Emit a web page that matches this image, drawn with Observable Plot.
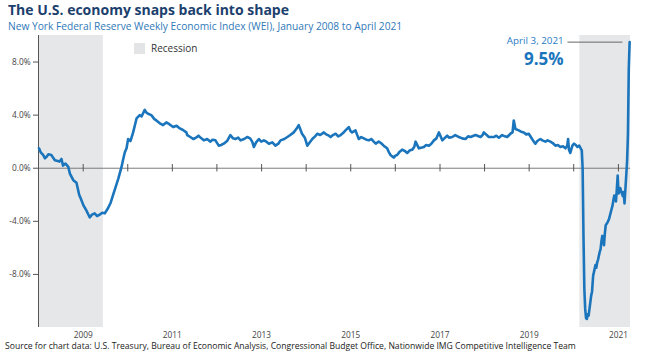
<!DOCTYPE html>
<html><head><meta charset="utf-8">
<script src="https://cdn.jsdelivr.net/npm/d3@7"></script>
<script src="https://cdn.jsdelivr.net/npm/@observablehq/plot@0.6"></script>
<style>
body{margin:0;background:#fff;}
#wrap{position:relative;width:645px;height:357px;overflow:hidden;font-family:"Open Sans",Lato,sans-serif;}
#title{position:absolute;left:8px;top:1.8px;line-height:1.1;font-weight:700;font-size:14px;color:#1c3f6e;white-space:nowrap;}
#sub{position:absolute;left:8px;top:20.6px;line-height:1.1;font-size:10.2px;color:#2f79b9;white-space:nowrap;}
#chart{position:absolute;left:0;top:30px;}
#legend{position:absolute;left:134px;top:43px;line-height:1.1;font-size:10px;color:#333;display:flex;align-items:center;}
#legend span.sw{display:inline-block;width:11px;height:11px;background:#e3e4e6;margin-right:6px;}
#source{position:absolute;left:5px;top:342px;line-height:1.1;font-size:8.6px;color:#222;white-space:nowrap;}
</style></head><body>
<div id="wrap">
<div id="title">The U.S. economy snaps back into shape</div>
<div id="sub">New York Federal Reserve Weekly Economic Index (WEI), January 2008 to April 2021</div>
<div id="chart"></div>
<div id="legend"><span class="sw"></span>Recession</div>
<div id="source">Source for chart data: U.S. Treasury, Bureau of Economic Analysis, Congressional Budget Office, Nationwide IMG Competitive Intelligence Team</div>
</div>
<script>
const dates = [
"2008-01-05","2008-01-19","2008-02-08","2008-02-22","2008-03-06","2008-03-22","2008-04-15","2008-04-29","2008-05-14","2008-06-07","2008-06-21","2008-07-07","2008-07-20","2008-08-09","2008-09-01","2008-09-14","2008-10-12",
"2008-11-07","2008-11-29","2008-12-13","2009-01-03","2009-01-28","2009-02-10","2009-02-24","2009-03-14","2009-04-05","2009-04-25","2009-05-16","2009-06-06","2009-06-27","2009-07-24","2009-08-14","2009-09-03",
"2009-09-24","2009-10-15","2009-11-11","2009-11-25","2009-12-08","2009-12-22","2010-01-04","2010-01-23","2010-02-14","2010-03-14","2010-04-09","2010-04-24","2010-05-20","2010-06-02","2010-06-16","2010-07-13",
"2010-08-07","2010-08-23","2010-09-18","2010-10-17","2010-11-13","2010-12-10","2011-01-08","2011-02-05","2011-03-03","2011-03-26","2011-04-26","2011-05-03","2011-05-28","2011-06-23","2011-07-14","2011-08-03","2011-08-27","2011-09-16",
"2011-10-13","2011-11-09","2011-11-26","2011-12-20","2012-01-16","2012-02-04","2012-02-26","2012-03-24","2012-04-20","2012-05-12","2012-06-01","2012-06-23","2012-07-13","2012-08-11","2012-09-05","2012-09-29","2012-10-16","2012-10-30",
"2012-11-17","2012-12-10","2012-12-29","2013-01-20","2013-02-09","2013-03-02","2013-03-30","2013-04-24","2013-05-18","2013-06-05","2013-07-06","2013-07-31","2013-08-24","2013-09-21","2013-10-12","2013-11-01","2013-11-28","2013-12-21","2014-01-10",
"2014-02-20","2014-03-15","2014-04-02","2014-04-26","2014-05-26","2014-06-14","2014-07-06","2014-07-20","2014-08-09","2014-08-30","2014-09-20","2014-10-10","2014-10-30","2014-11-19","2014-12-16","2014-12-30","2015-01-12",
"2015-02-09","2015-02-21","2015-03-08","2015-03-28","2015-04-18","2015-05-09","2015-05-29","2015-06-20","2015-07-08","2015-07-25","2015-08-18","2015-09-05","2015-09-28","2015-10-26","2015-11-07","2015-11-22","2015-12-19",
"2016-01-02","2016-01-16","2016-02-06","2016-02-26","2016-03-19","2016-04-07","2016-04-30","2016-05-19","2016-06-04","2016-06-15","2016-07-12","2016-07-30","2016-08-22","2016-09-10","2016-10-02","2016-10-22","2016-11-12","2016-12-03","2016-12-23",
"2017-01-20","2017-02-11","2017-03-01","2017-03-18","2017-04-11","2017-05-06","2017-06-05","2017-07-01","2017-07-29","2017-08-19","2017-09-08","2017-10-19","2017-11-29","2017-12-16","2017-12-26","2018-02-05",
"2018-03-18","2018-04-07","2018-04-28","2018-05-25","2018-06-16","2018-07-05","2018-08-01","2018-08-18","2018-08-28","2018-09-11","2018-10-08","2018-10-27","2018-11-18","2018-12-08","2018-12-29",
"2019-01-25","2019-02-09","2019-02-21","2019-03-09","2019-04-03","2019-04-20","2019-05-14","2019-06-01","2019-06-24","2019-07-13","2019-08-04","2019-08-24","2019-09-14","2019-10-05","2019-10-25","2019-11-09","2019-11-16","2019-11-23","2019-12-04",
"2019-12-21","2020-01-04","2020-01-18","2020-01-31","2020-02-15","2020-02-27","2020-03-07","2020-03-14","2020-03-21","2020-03-28","2020-04-04","2020-04-11","2020-04-18","2020-04-25","2020-05-02",
"2020-05-09","2020-05-16","2020-05-23","2020-05-30","2020-06-08","2020-06-20","2020-06-27","2020-07-04","2020-07-11","2020-07-18","2020-07-25","2020-08-01","2020-08-08","2020-08-15","2020-08-22","2020-08-29","2020-09-05","2020-09-12","2020-09-19",
"2020-10-03","2020-10-17","2020-10-31","2020-11-14","2020-11-21","2020-11-28","2020-12-05","2020-12-12","2020-12-19","2020-12-26","2021-01-02","2021-01-09","2021-01-16","2021-01-23","2021-01-30","2021-02-06","2021-02-13","2021-02-20","2021-02-27","2021-03-06",
"2021-03-13","2021-03-20","2021-03-27","2021-04-03"
];
const values = [
1.5,1.2,1.0,0.75,0.85,1.05,1.0,0.8,0.6,0.55,0.5,0.7,0.2,0.35,0.1,-0.4,-0.9,
-1.1,-2.0,-2.3,-2.8,-3.2,-3.45,-3.7,-3.5,-3.4,-3.6,-3.5,-3.35,-3.4,-3.0,-2.6,-2.0,
-1.4,-0.8,0.1,0.7,1.2,1.5,2.2,2.05,2.7,3.75,4.0,3.9,4.4,4.2,4.1,4.0,
3.7,3.6,3.4,3.25,3.45,3.3,3.1,3.2,3.0,2.9,2.7,2.5,2.35,2.2,2.3,2.45,2.25,2.1,
2.2,2.0,2.15,2.1,1.7,1.75,1.85,2.05,2.5,2.25,2.2,2.3,2.1,2.2,2.35,2.25,2.0,1.6,
1.95,2.2,2.0,2.1,2.0,1.85,1.95,1.7,1.85,2.1,2.2,2.35,2.5,2.7,2.95,3.25,2.6,2.3,1.7,
2.2,2.4,2.6,2.5,2.7,2.55,2.45,2.35,2.5,2.6,2.4,2.5,2.65,2.85,3.1,2.8,2.7,
2.85,2.55,2.2,2.35,2.25,2.15,2.1,2.2,2.0,1.85,2.0,1.9,1.7,1.5,1.25,1.0,0.8,
0.95,1.0,1.25,1.4,1.3,1.15,1.35,1.4,1.6,2.0,1.5,1.55,1.6,1.75,1.7,1.85,2.1,2.25,2.7,
2.1,2.3,2.45,2.3,2.35,2.5,2.35,2.25,2.2,2.4,2.35,2.5,2.35,2.5,2.7,2.35,
2.35,2.45,2.3,2.5,2.4,2.35,2.6,2.7,3.6,2.95,2.85,2.75,2.7,2.55,2.6,
2.2,2.0,1.85,2.05,2.2,2.1,2.0,2.1,2.0,1.9,1.7,1.75,1.6,1.65,1.5,1.7,2.2,1.4,1.15,
1.7,1.85,1.75,1.6,1.7,1.5,1.35,0.0,-5.1,-9.1,-10.6,-11.3,-11.35,-11.0,-11.1,
-10.6,-10.1,-9.6,-9.3,-8.1,-7.6,-7.3,-7.5,-7.1,-6.9,-6.6,-6.3,-6.1,-5.5,-5.1,-5.4,-5.8,-4.9,-4.3,
-4.1,-3.8,-3.3,-2.8,-2.4,-2.06,-2.3,-2.5,-1.6,-0.55,-1.9,-1.8,-1.5,-1.7,-1.9,-2.1,-1.8,-2.65,-1.6,-0.55,
0.5,2.5,7.5,9.5
];
const recessionStarts = ["2007-12-01","2020-02-20"];
const recessionEnds = ["2009-06-15","2021-04-10"];
const yTicks = [-8,-4,0,4,8];
const xLabelYears = [2009,2011,2013,2015,2017,2019,2021];
const xTickYears = [2009,2010,2011,2012,2013,2014,2015,2016,2017,2018,2019,2020,2021];
const annotationLabel = "April 3, 2021";
const annotationValue = "9.5%";

const data = dates.map((d,i)=>({date:new Date(d), value:values[i]}));
const rec = recessionStarts.map((s,i)=>({start:new Date(s), end:new Date(recessionEnds[i])}));
const x0 = new Date("2008-01-01"), xEnd = new Date("2021-04-10");
const last = data[data.length-1];
const blue = "#1b75bc";

const chart = Plot.plot({
  width:645, height:315,
  marginLeft:38, marginRight:15, marginTop:5, marginBottom:18,
  x:{type:"utc", domain:[x0,xEnd]},
  y:{domain:[-12,10]},
  style:{fontFamily:"'Open Sans', Lato, sans-serif", fontSize:"8.3px", color:"#444", background:"transparent"},
  marks:[
    Plot.rect(rec,{x1:"start", x2:"end", fill:"#e6e7e9", clip:true}),
    Plot.ruleY([0],{stroke:"#7a7a7a", strokeWidth:1}),
    Plot.ruleX(xTickYears.map(y=>new Date(Date.UTC(y,0,1))),{y1:()=>-0.28, y2:()=>0.28, stroke:"#555", strokeWidth:1}),
    Plot.ruleX([x0],{stroke:"#555", strokeWidth:1}),
    Plot.axisY(yTicks,{label:null, tickFormat:d=>d.toFixed(1)+"%", tickSize:5, tickPadding:3, stroke:"#555", fill:"#444"}),
    Plot.axisX(xLabelYears.map(y=>new Date(Date.UTC(y,0,1))),{label:null, tickFormat:d3.utcFormat("%Y"), tickSize:0, tickPadding:5, fill:"#444"}),
    Plot.line(data,{x:"date", y:"value", stroke:blue, strokeWidth:2.6, strokeLinejoin:"round"}),
    Plot.ruleY([last],{y:"value", x1:d=>d3.utcDay.offset(d.date,-505), x2:d=>d3.utcDay.offset(d.date,-55), stroke:"#666", strokeWidth:1}),
    Plot.text([last],{x:"date", y:"value", text:()=>annotationLabel, dx:-66, dy:-1, textAnchor:"end", fill:"#2a7bc4", fontSize:9.8}),
    Plot.text([last],{x:"date", y:"value", text:()=>annotationValue, dx:-66, dy:17, textAnchor:"end", fill:"#1b75bc", fontSize:17, fontWeight:"bold"})
  ]
});
document.getElementById("chart").appendChild(chart);
</script>
</body></html>
